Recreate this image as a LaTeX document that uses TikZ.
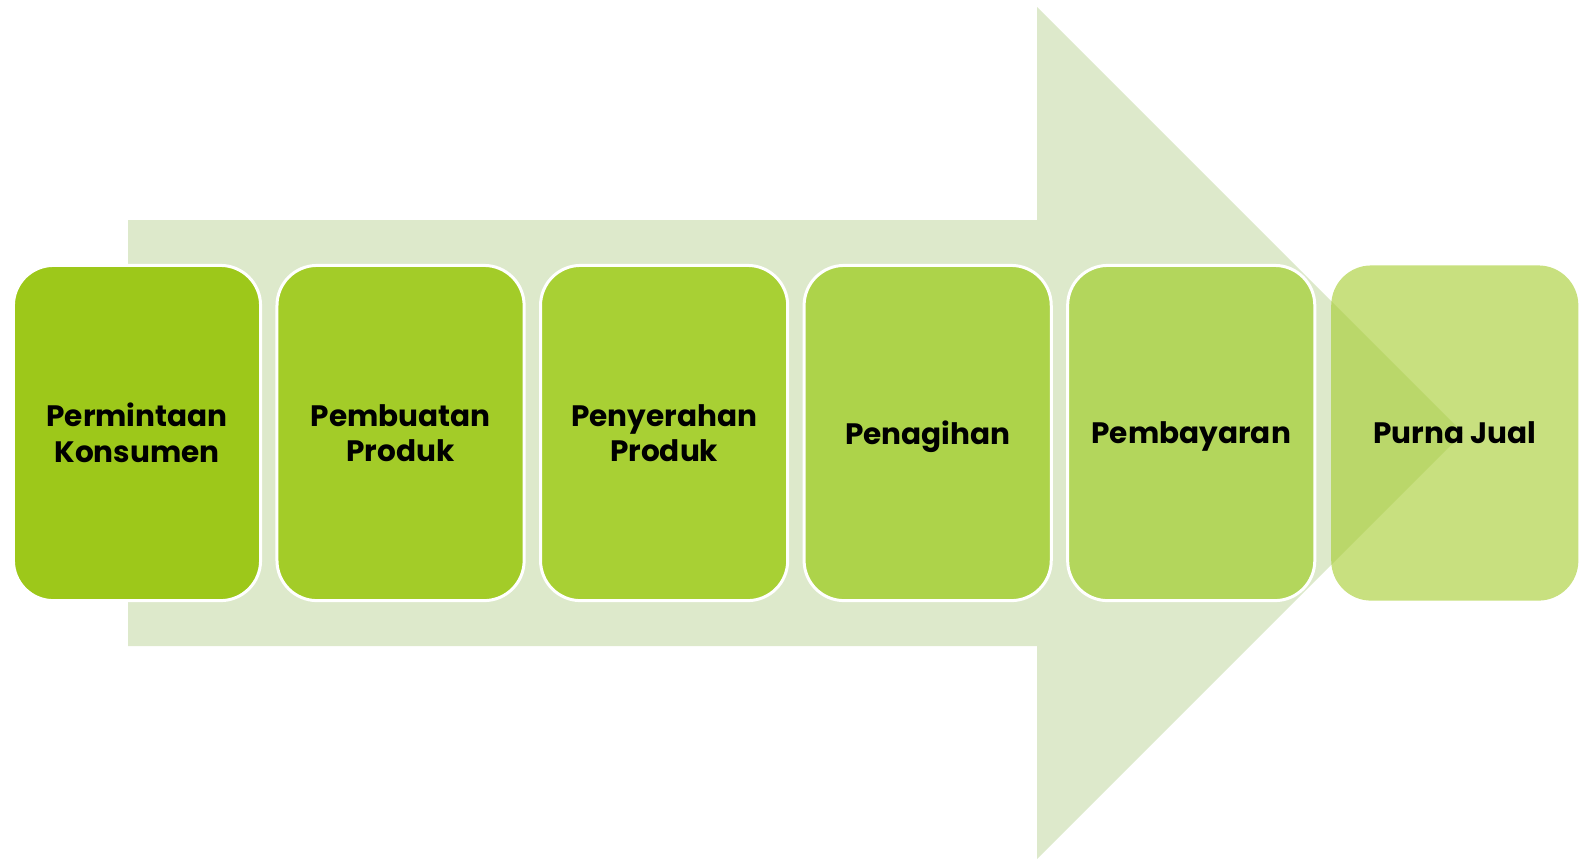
\documentclass[tikz,border=0pt]{standalone}
\usepackage{fontspec}
\setmainfont{Poppins}
\usepackage{tikz}
\usetikzlibrary{shapes.geometric, arrows}
\definecolor{flowbg}{HTML}{DDE9CB}
\definecolor{stageA}{HTML}{9DC81A}
\definecolor{stageB}{HTML}{A3CC28}
\definecolor{stageC}{HTML}{A8D034}
\definecolor{stageD}{HTML}{ADD34A}
\definecolor{stageE}{HTML}{B3D65C}
\definecolor{stageF}{HTML}{A3CB2A}
\tikzstyle{stage} = [rectangle, rounded corners=0.4cm, minimum width=2.47cm, minimum height=3.35cm, text centered, text depth=0pt, draw=white, line width=0.03cm, font=\bfseries\fontsize{8.4}{10.2}\selectfont]

\begin{document}
\begin{tikzpicture}[align=center,node distance=2.634cm,x=0.01cm,y=-0.01cm]
        % big arrow behind the stages
        \fill [flowbg] (128,220) -- (1037,220) -- (1037,7) -- (1463,433) -- (1037,859) -- (1037,646) -- (128,646) -- cycle;
        \node (demand) [stage, fill=stageA] at (137,433) {Permintaan\\Konsumen};
        \node (make) [stage, fill=stageB, right of=demand] {Pembuatan\\Produk};
        \node (deliver) [stage, fill=stageC, right of=make] {Penyerahan\\Produk};
        \node (billing) [stage, fill=stageD, right of=deliver] {Penagihan};
        \node (payment) [stage, fill=stageE, right of=billing] {Pembayaran};
        \node (aftersale) [stage, draw=none, fill=stageF, fill opacity=0.6, text opacity=1, right of=payment] {Purna Jual};
        \pgfresetboundingbox
        \useasboundingbox (0,0) rectangle (1580,859);
    \end{tikzpicture}
\end{document}
